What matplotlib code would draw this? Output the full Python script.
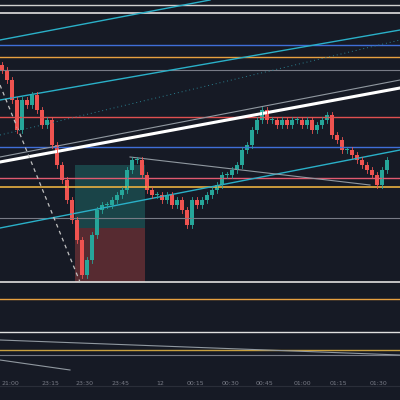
import matplotlib
matplotlib.use("Agg")
import matplotlib.pyplot as plt
from matplotlib.patches import Rectangle

BG = "#161a25"
UP = "#26a69a"
DN = "#ef5350"

# candle closes (price scale, chart units), one per 5 time units
closes = [330, 320, 300, 270, 300, 295, 305, 290, 275, 280, 255, 235, 220, 200, 180, 160, 125,
          140, 165, 190, 195, 195, 200, 205, 210, 230, 240, 240, 225, 210, 205, 205, 200, 205,
          195, 200, 190, 175, 200, 195, 200, 205, 210, 215, 225, 225, 230, 235, 250, 255, 270,
          280, 290, 280, 280, 275, 280, 275, 280, 280, 275, 280, 270, 275, 280, 285, 265, 260,
          250, 250, 245, 240, 235, 230, 225, 215, 230, 240]
start_open = 335

x_ticks = [10, 50, 85, 120, 160, 195, 230, 265, 302, 338, 378]
x_labels = ["21:00", "23:15", "23:30", "23:45", "12", "00:15", "00:30", "00:45", "01:00", "01:15", "01:30"]

hlines = [(395, "#d0d0d0", 1.0), (387, "#e0e0e0", 1.2), (355, "#3f6fd8", 1.0), (343, "#e8a040", 1.0),
          (330, "#787b86", 0.8), (283, "#e05050", 1.0), (253, "#3f6fd8", 1.0), (222, "#e05a70", 1.0),
          (213, "#e8b040", 1.2), (182, "#787b86", 0.8), (118, "#e0e0e0", 1.2), (101, "#e8a040", 1.0),
          (68, "#e0e0e0", 1.0), (50, "#c8a040", 1.0), (45, "#787b86", 0.8)]
diag = [((0, 300), (400, 370), "#2ab0c8", 1.0, "-"), ((0, 360), (210, 400), "#2ab0c8", 1.0, "-"),
        ((0, 238), (400, 312), "#ffffff", 2.2, "-"), ((0, 243), (400, 320), "#9098a0", 0.8, "-"),
        ((0, 172), (400, 250), "#2ab0c8", 1.0, "-"), ((130, 243), (370, 215), "#9098a0", 0.8, "-"),
        ((0, 60), (400, 45), "#9098a0", 0.8, "-"), ((0, 40), (70, 30), "#9098a0", 0.8, "-"),
        ((0, 315), (80, 118), "#c0c0c0", 0.9, (0, (3, 3))), ((0, 265), (400, 360), "#2a8090", 0.7, (0, (1, 3)))]

fig = plt.figure(figsize=(4, 4), dpi=100, facecolor=BG)
ax = fig.add_axes([0, 0.02, 1, 0.98])
ax.set_facecolor(BG)
ax.set_xlim(0, 400)
ax.set_ylim(8, 400)
for s in ax.spines.values():
    s.set_visible(False)
ax.set_yticks([])
ax.set_xticks(x_ticks)
ax.set_xticklabels(x_labels, color="#787b86", fontsize=4.5)
ax.tick_params(axis="x", length=0, pad=-8)

ax.add_patch(Rectangle((75, 172), 70, 63, color=UP, alpha=0.3, lw=0))
ax.add_patch(Rectangle((75, 118), 70, 54, color=DN, alpha=0.3, lw=0))

for y, c, lw in hlines:
    ax.axhline(y, color=c, lw=lw)
for p0, p1, c, lw, ls in diag:
    ax.plot([p0[0], p1[0]], [p0[1], p1[1]], color=c, lw=lw, ls=ls)

o = start_open
for i, c in enumerate(closes):
    x = i * 5 + 2
    col = UP if c >= o else DN
    ax.plot([x, x], [min(o, c) - 3, max(o, c) + 3], color=col, lw=0.6)
    ax.add_patch(Rectangle((x - 1.7, min(o, c)), 3.4, max(abs(c - o), 0.8), color=col, lw=0))
    o = c

ax.axhline(14, color="#2a2e39", lw=0.8)
fig.savefig("out.png", dpi=100, facecolor=BG)
